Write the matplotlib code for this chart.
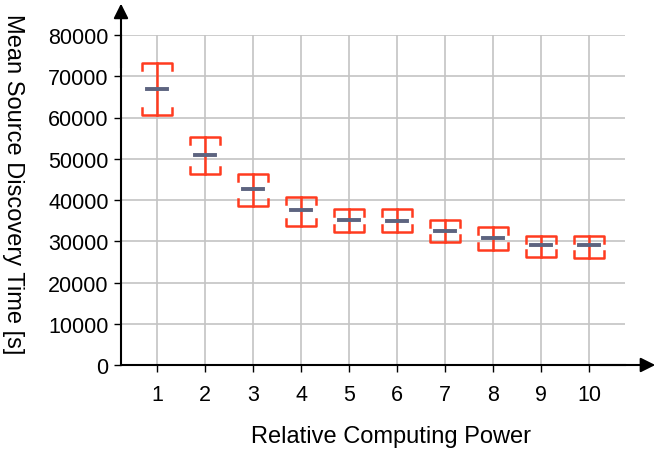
import matplotlib.pyplot as plt

plt.rcParams['font.family'] = ['Liberation Sans', 'DejaVu Sans']

power = [1, 2, 3, 4, 5, 6, 7, 8, 9, 10]
mean_time = [67000, 51000, 42700, 37600, 35100, 35000, 32500, 30900, 29000, 29000]
upper = [73200, 55300, 46300, 40700, 37800, 37800, 35200, 33500, 31200, 31200]
lower = [60600, 46300, 38500, 33700, 32200, 32200, 29800, 27900, 26100, 26000]

red = '#ff3b1f'
slate = '#5d6480'

fig = plt.figure(figsize=(6.55, 4.52), dpi=100)
ax = fig.add_axes([121 / 655, 86 / 452, 504 / 655, 330 / 452])

cap_w = 0.31   # half width of the bracket caps
lip = 1700     # height of the bracket ends
for x, m, hi, lo in zip(power, mean_time, upper, lower):
    ax.plot([x, x], [lo, hi], color=red, lw=1.8, zorder=3)
    ax.plot([x - cap_w, x - cap_w, x + cap_w, x + cap_w],
            [hi - lip, hi, hi, hi - lip], color=red, lw=1.8, zorder=3)
    ax.plot([x - cap_w, x - cap_w, x + cap_w, x + cap_w],
            [lo + lip, lo, lo, lo + lip], color=red, lw=1.8, zorder=3)
    ax.plot([x - 0.2, x + 0.2], [m, m], color=slate, lw=2.8, zorder=4)

ax.set_xlim(0.25, 10.75)
ax.set_ylim(0, 80000)
ax.set_xticks(power)
ax.set_yticks(range(0, 80001, 10000))
ax.grid(True, color='#c4c4c4', lw=1.2)
ax.set_axisbelow(True)
for s in ['top', 'right']:
    ax.spines[s].set_visible(False)
ax.spines['left'].set_linewidth(1.5)
ax.spines['bottom'].set_linewidth(1.5)
ax.tick_params(labelsize=15.5, length=5, width=1, pad=4)
ax.tick_params(axis='x', pad=9)

# arrow heads on the axes
ax.annotate('', xy=(0, 1.095), xytext=(0, 0.9), xycoords='axes fraction',
            arrowprops=dict(arrowstyle='-|>', color='black', lw=1.5,
                            mutation_scale=22, shrinkA=0, shrinkB=0))
ax.annotate('', xy=(1.06, 0), xytext=(0.95, 0), xycoords='axes fraction',
            arrowprops=dict(arrowstyle='-|>', color='black', lw=1.5,
                            mutation_scale=22, shrinkA=0, shrinkB=0))

fig.text(391 / 655, 1 - 437 / 452, 'Relative Computing Power',
         fontsize=17, ha='center', va='center')
fig.text(13 / 655, 1 - 184 / 452, 'Mean Source Discovery Time [s]', rotation=270,
         fontsize=17, ha='center', va='center')

fig.savefig('out.png', dpi=100)
